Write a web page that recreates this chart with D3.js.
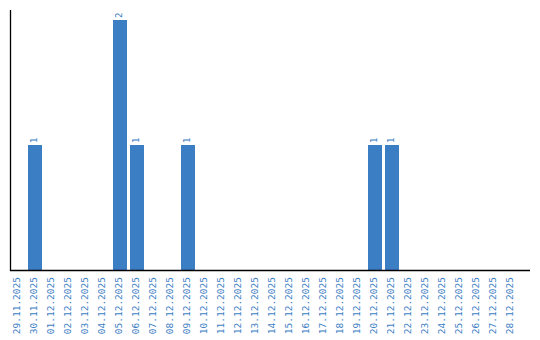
<!DOCTYPE html>
<html><head><meta charset="utf-8">
<script src="https://cdn.jsdelivr.net/npm/d3@7/dist/d3.min.js"></script>
<style>body{margin:0;background:#fff}svg{display:block}</style>
</head><body>
<svg id="c" width="540" height="340"></svg>
<script>
const categories = ["29.11.2025","30.11.2025","01.12.2025","02.12.2025","03.12.2025","04.12.2025","05.12.2025","06.12.2025","07.12.2025","08.12.2025","09.12.2025","10.12.2025","11.12.2025","12.12.2025","13.12.2025","14.12.2025","15.12.2025","16.12.2025","17.12.2025","18.12.2025","19.12.2025","20.12.2025","21.12.2025","22.12.2025","23.12.2025","24.12.2025","25.12.2025","26.12.2025","27.12.2025","28.12.2025"];
const values = [0,1,0,0,0,0,2,1,0,0,1,0,0,0,0,0,0,0,0,0,0,1,1,0,0,0,0,0,0,0];

const svg = d3.select("#c");
const color = "#3b7ec4";
const font = "DejaVu Sans Mono, Liberation Mono, monospace";
const x = d3.scaleBand().domain(categories).range([11, 518]).paddingInner(3/17).paddingOuter(0);
const y = d3.scaleLinear().domain([0, 2]).range([270, 20]);

svg.selectAll("rect.bar").data(categories).enter().append("rect")
  .attr("class","bar")
  .attr("x", d => x(d))
  .attr("width", x.bandwidth())
  .attr("y", (d,i) => y(values[i]))
  .attr("height", (d,i) => y(0) - y(values[i]))
  .attr("fill", color);

svg.selectAll("text.val").data(categories.filter((d,i)=>values[i]>0)).enter().append("text")
  .attr("class","val")
  .attr("transform", d => `translate(${x(d)+x.bandwidth()/2+2},${y(values[categories.indexOf(d)])-2}) rotate(-90)`)
  .attr("font-family", font)
  .attr("font-size", 9)
  .attr("fill", color)
  .text(d => values[categories.indexOf(d)]);

// axes lines
svg.append("line").attr("x1",10.5).attr("x2",10.5).attr("y1",10).attr("y2",271).attr("stroke","#000").attr("stroke-width",1.3);
svg.append("line").attr("x1",10).attr("x2",530).attr("y1",270.5).attr("y2",270.5).attr("stroke","#000").attr("stroke-width",1.3);

svg.selectAll("text.tick").data(categories).enter().append("text")
  .attr("class","tick")
  .attr("transform", d => `translate(${x(d)+x.bandwidth()/2+1.5},277) rotate(-90)`)
  .attr("text-anchor","end")
  .attr("font-family", font)
  .attr("font-size", 9.5)
  .attr("fill", color)
  .text(d => d);
</script>
</body></html>
